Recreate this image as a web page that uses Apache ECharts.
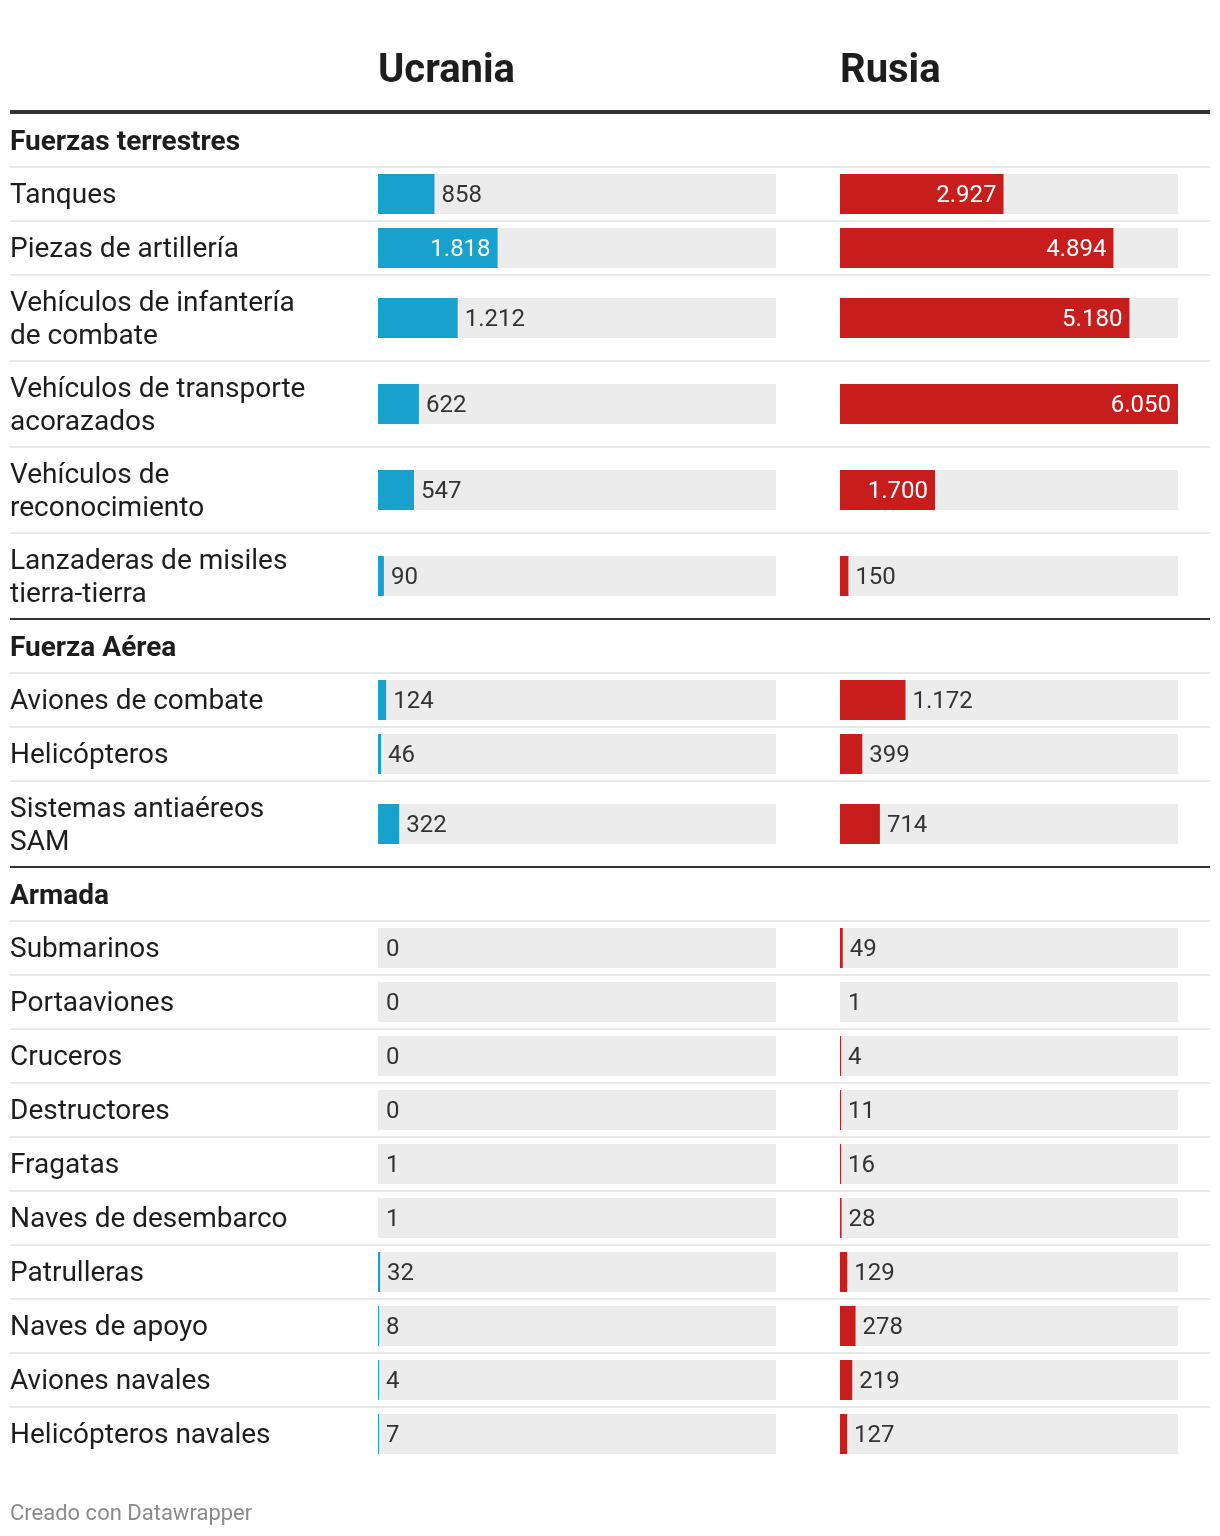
<!DOCTYPE html>
<html><head><meta charset="utf-8">
<script src="https://cdn.jsdelivr.net/npm/echarts@6/dist/echarts.min.js"></script>
<style>html,body{margin:0;padding:0;background:#fff}#chart{width:1220px;height:1536px}</style>
</head><body><div id="chart"></div>
<script>
// ---- data ----
const columnTitles = ['Ucrania', 'Rusia'];
const sectionTitles = ['Fuerzas terrestres', 'Fuerza Aérea', 'Armada'];
const categories = [
  'Tanques', 'Piezas de artillería', 'Vehículos de infantería\nde combate',
  'Vehículos de transporte\nacorazados', 'Vehículos de\nreconocimiento',
  'Lanzaderas de misiles\ntierra-tierra',
  'Aviones de combate', 'Helicópteros', 'Sistemas antiaéreos\nSAM',
  'Submarinos', 'Portaaviones', 'Cruceros', 'Destructores', 'Fragatas',
  'Naves de desembarco', 'Patrulleras', 'Naves de apoyo', 'Aviones navales',
  'Helicópteros navales'
];
const categorySection = [0,0,0,0,0,0,1,1,1,2,2,2,2,2,2,2,2,2,2];
const ucrania = [858,1818,1212,622,547,90,124,46,322,0,0,0,0,1,1,32,8,4,7];
const rusia = [2927,4894,5180,6050,1700,150,1172,399,714,49,1,4,11,16,28,129,278,219,127];
const footerText = 'Creado con Datawrapper';

// ---- layout / style ----
const FONT = 'Roboto, "Noto Sans", sans-serif';
const values = [ucrania, rusia];
const colLeft = [378, 840];
const colWidth = [398, 338];
const colColor = ['#18a1cd', '#c71e1d'];
const maxVal = Math.max(...ucrania, ...rusia);
const fmt = v => String(v).replace(/\B(?=(\d{3})+(?!\d))/g, '.');
const LX1 = 10, LX2 = 1210;

const grids = [], xAxes = [], yAxes = [], series = [], graphics = [];

columnTitles.forEach((t, c) => {
  graphics.push({type: 'text', x: colLeft[c], y: 72, silent: true,
    style: {text: t, fontSize: 40, fontWeight: 'bold', fontFamily: FONT, fill: '#1d1d1d',
            align: 'left', verticalAlign: 'middle', textAlign: 'left', textVerticalAlign: 'middle'}});
});
graphics.push({type: 'line', silent: true, shape: {x1: LX1, y1: 112, x2: LX2, y2: 112},
  style: {stroke: '#333', lineWidth: 4}});

let y = 113;
let prevSection = -1;
categories.forEach((cat, i) => {
  const s = categorySection[i];
  if (s !== prevSection) {
    if (prevSection >= 0) {
      graphics.push({type: 'line', silent: true, shape: {x1: LX1, y1: y, x2: LX2, y2: y},
        style: {stroke: '#333', lineWidth: 2}});
    }
    graphics.push({type: 'text', x: LX1, y: y + 30, silent: true,
      style: {text: sectionTitles[s], fontSize: 28, fontWeight: 'bold', fontFamily: FONT, fill: '#1d1d1d',
              align: 'left', verticalAlign: 'middle', textAlign: 'left', textVerticalAlign: 'middle'}});
    y += 54;
    prevSection = s;
  }
  graphics.push({type: 'line', silent: true, shape: {x1: LX1, y1: y, x2: LX2, y2: y},
    style: {stroke: '#e8e8e8', lineWidth: 2}});
  const h = cat.indexOf('\n') >= 0 ? 86 : 54;
  for (let c = 0; c < 2; c++) {
    const gi = grids.length;
    grids.push({left: colLeft[c], width: colWidth[c], top: y, height: h,
                containLabel: false, outerBoundsMode: 'none'});
    xAxes.push({gridIndex: gi, type: 'value', min: 0, max: maxVal, show: false});
    yAxes.push({gridIndex: gi, type: 'category', data: [cat],
      axisLine: {show: false}, axisTick: {show: false}, splitLine: {show: false},
      axisLabel: c === 0 ? {show: true, align: 'left', margin: colLeft[0] - LX1,
        fontSize: 28, color: '#1d1d1d', fontFamily: FONT,
        formatter: t => t.split('\n').map(l => '{a|' + l + '}').join('\n'),
        rich: {a: {fontSize: 28, lineHeight: 33, padding: [4, 0, 0, 0], color: '#1d1d1d', fontFamily: FONT}}
      } : {show: false}});
    const v = values[c][i];
    const inside = v / maxVal > 0.25;
    series.push({type: 'bar', xAxisIndex: gi, yAxisIndex: gi, barWidth: 40, barMinHeight: 1,
      showBackground: true, backgroundStyle: {color: '#ececec'}, silent: true, animation: false,
      data: [{value: v,
        itemStyle: {color: v >= 2 ? colColor[c] : 'rgba(0,0,0,0)'},
        label: {show: true, position: inside ? 'insideRight' : 'right', distance: 7,
          offset: [0, 2],
          color: inside ? '#ffffff' : '#333333', fontSize: 24, fontFamily: FONT,
          formatter: p => fmt(p.value)}}]});
  }
  y += h;
});

graphics.push({type: 'text', x: LX1, y: 1514, silent: true,
  style: {text: footerText, fontSize: 22, fontFamily: FONT, fill: '#8a8a8a',
          align: 'left', verticalAlign: 'middle', textAlign: 'left', textVerticalAlign: 'middle'}});

const chart = echarts.init(document.getElementById('chart'), null, {renderer: 'canvas'});
chart.setOption({
  animation: false,
  backgroundColor: '#ffffff',
  grid: grids, xAxis: xAxes, yAxis: yAxes, series: series,
  graphic: graphics
});
</script></body></html>
